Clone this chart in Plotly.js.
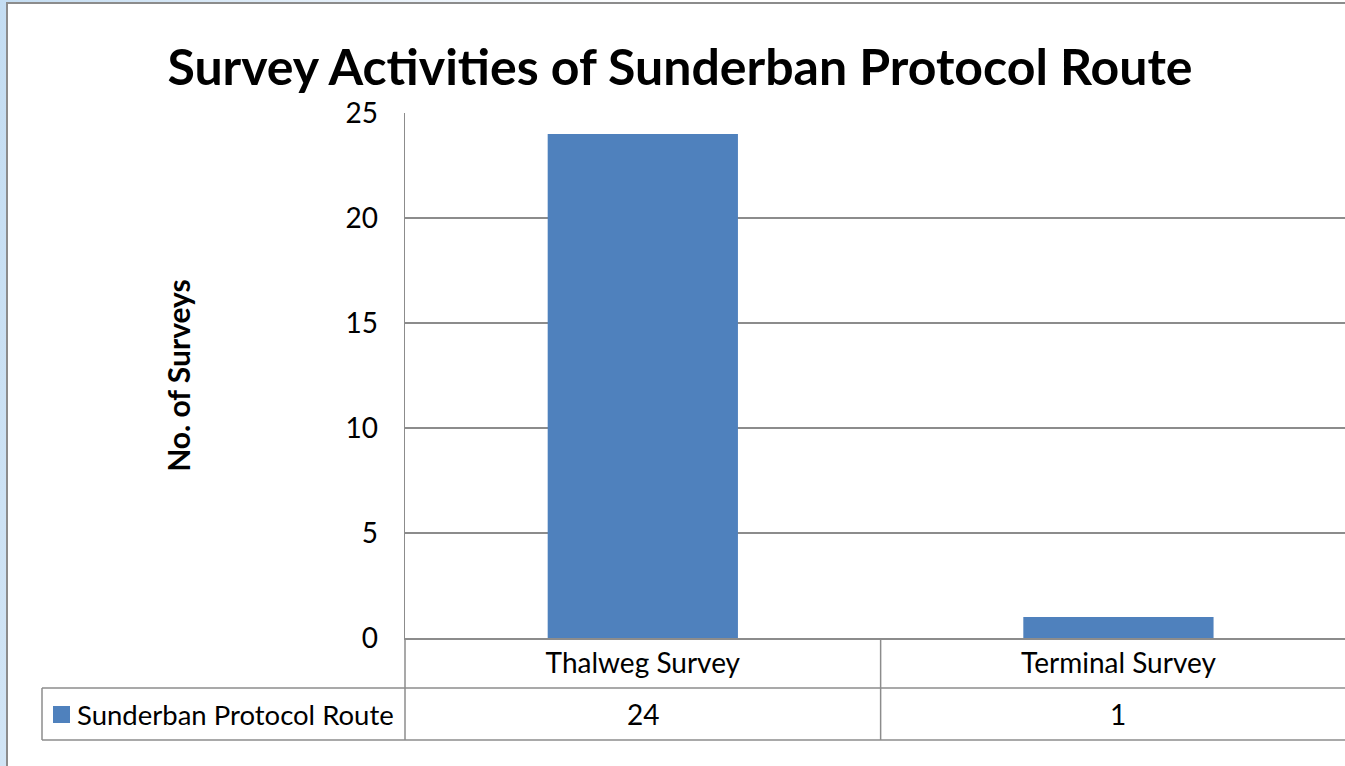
<!DOCTYPE html>
<html>
<head>
<meta charset="utf-8">
<script src="https://cdn.plot.ly/plotly-3.0.1.min.js"></script>
<style>
  html, body { margin: 0; padding: 0; overflow: hidden; }
  body { background: linear-gradient(100deg, #c4ddf2 0%, #e8f1fa 25%, #ffffff 45%); }
  #chart { width: 1357px; height: 766px; }
</style>
</head>
<body>
<div id="chart"></div>
<script>
const categories = ['Thalweg Survey', 'Terminal Survey'];
const surveyCounts = [24, 1];
const seriesName = 'Sunderban Protocol Route';
const yTicks = [0, 5, 10, 15, 20, 25];

const barColor = '#4f81bd';
const lineColor = '#8c8c8c';
const font = 'Lato, "Open Sans", sans-serif';
const textSize = 28;

// plot area in pixels: left 405, top 113, bottom 638, width 952
const px = p => (p - 405) / 952;
const py = p => (638 - p) / 525;

const trace = {
    type: 'bar',
    x: categories,
    y: surveyCounts,
    name: seriesName,
    marker: { color: barColor },
    hoverinfo: 'x+y'
};

function hline(y, x0, x1) {
    return { type: 'line', xref: 'paper', yref: 'paper', x0: px(x0), x1: px(x1), y0: py(y), y1: py(y),
             line: { color: lineColor, width: 1.5 } };
}
function vline(x, y0, y1, xref) {
    return { type: 'line', xref: xref || 'paper', yref: 'paper', x0: x, x1: x, y0: py(y0), y1: py(y1),
             line: { color: lineColor, width: 1.5 } };
}

const shapes = [
    // outer chart border
    { type: 'rect', xref: 'paper', yref: 'paper', layer: 'below',
      x0: px(7), x1: px(1400), y0: py(800), y1: py(3),
      fillcolor: '#ffffff', line: { color: lineColor, width: 2 } },
    // data table grid
    hline(688, 42, 1400),
    hline(740, 42, 1400),
    vline(px(42), 688, 740),
    vline(px(405), 638, 740),
    vline(0.5, 638, 740, 'x'),
    vline(1.5, 638, 740, 'x'),
    // legend key
    { type: 'rect', xref: 'paper', yref: 'paper', x0: px(53), x1: px(70), y0: py(723), y1: py(706),
      fillcolor: barColor, line: { width: 0 } }
];

const annotations = categories.map((c, i) => ({
    x: c, xref: 'x', y: py(714), yref: 'paper', yanchor: 'middle',
    text: String(surveyCounts[i]), showarrow: false,
    font: { family: font, size: textSize, color: '#000' }
}));
annotations.push({
    x: px(75), xref: 'paper', xanchor: 'left', y: py(714), yref: 'paper', yanchor: 'middle',
    text: seriesName, showarrow: false,
    font: { family: font, size: 27.5, color: '#000' }
});

const layout = {
    width: 1357,
    height: 766,
    margin: { l: 405, r: 0, t: 113, b: 128 },
    paper_bgcolor: 'rgba(0,0,0,0)',
    plot_bgcolor: 'rgba(0,0,0,0)',
    showlegend: false,
    bargap: 0.6,
    font: { family: font, size: textSize, color: '#000' },
    title: {
        text: 'Survey Activities of Sunderban Protocol Route',
        font: { family: font, size: 50, weight: 'bold', color: '#000' },
        xref: 'container', x: 680 / 1357,
        yref: 'container', y: 1 - 67 / 766, yanchor: 'middle'
    },
    xaxis: {
        type: 'category',
        showgrid: false,
        showline: true,
        linecolor: lineColor,
        linewidth: 1.5,
        ticks: '',
        ticklabelstandoff: 0,
        tickfont: { family: font, size: textSize, color: '#000' }
    },
    yaxis: {
        range: [0, 25],
        tickvals: yTicks,
        showgrid: true,
        gridcolor: lineColor,
        gridwidth: 1.5,
        zeroline: false,
        showline: true,
        linecolor: lineColor,
        linewidth: 1.5,
        ticks: '',
        ticklabelstandoff: 20,
        tickfont: { family: font, size: textSize, color: '#000' },
        title: {
            text: 'No. of Surveys',
            standoff: 146,
            font: { family: font, size: 30, weight: 'bold', color: '#000' }
        }
    },
    shapes: shapes,
    annotations: annotations
};

Plotly.newPlot('chart', [trace], layout, { displayModeBar: false, staticPlot: true });
</script>
</body>
</html>
